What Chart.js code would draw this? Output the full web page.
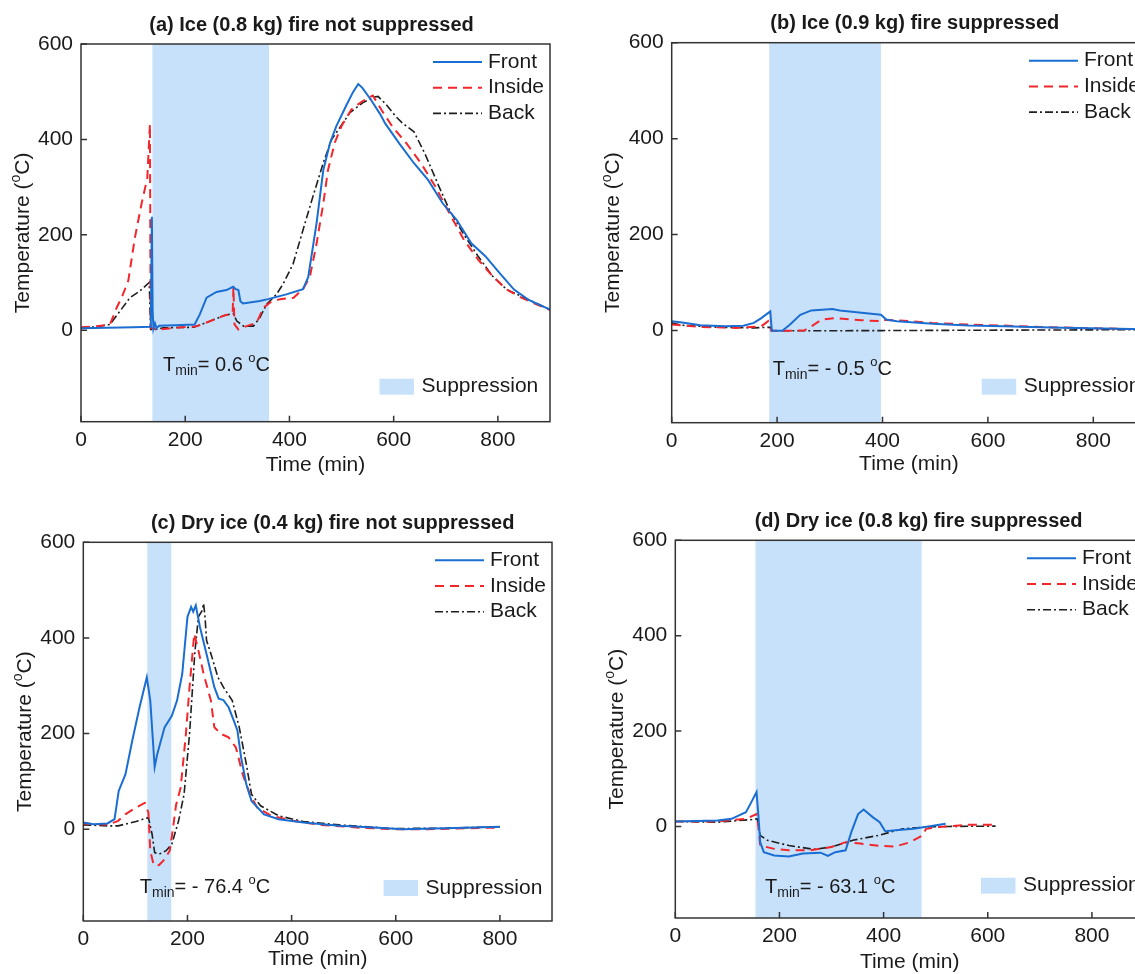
<!DOCTYPE html>
<html><head><meta charset="utf-8">
<script src="https://cdn.jsdelivr.net/npm/chart.js@4.4.1/dist/chart.umd.min.js"></script>
<style>
html,body{margin:0;padding:0;background:#fff;overflow:hidden;width:1135px;height:974px;}
#wrap{position:relative;width:1135px;height:974px;overflow:hidden;background:#fff;}
canvas{position:absolute;}
</style></head><body><div id="wrap">
<canvas id="cA" width="567" height="487" style="left:0px;top:0px"></canvas>
<canvas id="cB" width="600" height="487" style="left:567px;top:0px"></canvas>
<canvas id="cC" width="567" height="487" style="left:0px;top:487px"></canvas>
<canvas id="cD" width="600" height="487" style="left:567px;top:487px"></canvas>
</div>
<script>
// ---------- tick labels / axes ----------
const xTicks = [0, 200, 400, 600, 800];
const yTicks = [0, 200, 400, 600];
const xRange = [0, 900];
const yRange = [-192, 600];
const seriesNames = ['Front', 'Inside', 'Back'];
const titles = [
  '(a) Ice (0.8 kg) fire not suppressed',
  '(b) Ice (0.9 kg) fire suppressed',
  '(c) Dry ice (0.4 kg) fire not suppressed',
  '(d) Dry ice (0.8 kg) fire suppressed'
];
const tminLabels = ['0.6', '- 0.5', '- 76.4', '- 63.1'];

// ---------- suppression intervals (min) ----------
const aBand = [137, 361];
const bBand = [185, 397];
const cBand = [123, 169];
const dBand = [154, 473];

// ---------- (a) Ice 0.8 kg ----------
const aFront = [[0,4],[50,5],[100,6],[134,7],[136,238],[137.5,40],[139,3],[142,14],[145,4],[150,9],[180,10],[218,12],[228,33],[241,68],[260,80],[279,84],[292,91],[297,86],[302,84],[306,60],[311,56],[343,61],[359,65],[394,75],[426,86],[436,111],[452,224],[465,336],[478,393],[490,428],[509,471],[522,499],[532,516],[540,508],[557,482],[574,453],[584,433],[611,391],[639,350],[666,315],[694,266],[721,231],[749,182],[776,155],[803,120],[831,85],[858,64],[900,43]];
const aInside = [[0,6],[30,8],[55.6,12],[68.4,47],[78,68],[90.8,104],[103.6,195],[116.4,266],[127.2,319],[132.3,432],[133.6,5],[145,1],[183.5,5],[222,8],[248,19],[273,30],[291,35],[292.5,90],[294.5,12],[302,1.4],[318,8.5],[337,15.5],[350,47],[363,58],[382,65],[408,68],[426,86],[439,111],[452,181],[465,266],[474,336],[487,393],[500,428],[519,463],[540,480],[560,492],[577,461],[598,426],[625,391],[653,349],[680,301],[707,245],[735,189],[762,148],[790,113],[817,85],[845,68],[900,42]];
const aBack = [[0,5],[30,7],[55.6,12],[74.8,40],[94,68],[113,82],[131,100],[133.6,1.4],[142,1],[158,5],[216,6],[248,19],[273,30],[292,35],[299,19],[312,8.5],[331,8.5],[343,26],[356,54],[375,75],[388,97],[407,139],[426,210],[445,280],[465,351],[481,400],[503,435],[516,456],[541,477],[563,489],[570,490],[584,475],[605,447],[618,433],[639,416],[660,370],[687,301],[707,252],[735,200],[762,155],[790,113],[817,85],[845,71],[900,43]];

// ---------- (b) Ice 0.9 kg ----------
const bFront = [[0,19.5],[20,17],[54,11],[102,9],[136,10],[156,16],[170,26],[187,40],[190,-0.5],[210,-0.5],[224,12],[244,33],[265,42],[305,45],[319,42],[360,37],[397,33],[407,23],[427,19.5],[495,14],[563,10.4],[631,9],[699,7],[767,5.6],[900,3]];
const bInside = [[0,12.5],[54,7.6],[122,5.6],[170,9],[183,19.5],[189,-0.5],[251,0],[265,9],[285,23],[312,26],[360,21.5],[397,19.5],[400,22],[427,21.5],[495,16],[563,12.5],[631,10.4],[699,7.6],[767,5.6],[900,2.5]];
const bBack = [[0,16],[20,11],[88,7],[156,5.6],[187,7],[191,-0.5],[300,-0.3],[400,0],[600,0.8],[800,1.5],[900,2]];

// ---------- (c) Dry ice 0.4 kg ----------
const cFront = [[0,14],[19,10.5],[46.5,12],[60,21],[68,80],[81,115],[94,185],[108,255],[122,318],[128.6,269],[137,130],[142,157],[156,213],[170,237],[180,269],[190,325],[200,444],[207,465],[211,455],[216,468],[224,423],[238,360],[251.6,297],[260,273],[269,270],[279,255],[289,227],[296,206],[303,150],[313,94],[323,59],[347,31],[375,21],[422.6,14],[491,7],[559,3.5],[614,0],[696,2],[800,5]];
const cInside = [[0,12],[46.5,9],[67,17.5],[80.7,31],[101,45],[118,55],[125,35],[128.6,-45],[135,-74],[140,-76.4],[145.6,-75],[156,-63],[166,-45],[172,0],[178,50],[187,87],[197,199],[204,297],[213,409],[221,374],[231,325],[245,269],[251.6,213],[265,199],[279,192],[293,171],[306,115],[320,73],[334,45],[361,28],[402,17.5],[457,9],[525,3.5],[593.5,0],[662,0],[800,3.5]];
const cBack = [[0,9],[46.5,7],[67,7],[101,16],[125,24.5],[132,-10],[137,-49],[146,-52],[159,-45],[170,-31],[183,17.5],[193.5,73],[204,199],[214,367],[221,444],[228,457],[231,472],[234,440],[236.6,395],[245,367],[258.5,318],[269,297],[286,269],[299.5,213],[313,136],[323,73],[340.5,49],[375,28],[422.6,16],[491,9],[593.5,1.4],[696,2],[800,5]];

// ---------- (d) Dry ice 0.8 kg ----------
const dFront = [[0,10.5],[81,12.5],[108,16],[135.6,30],[146,51],[156,72],[159.6,23],[163,-33],[170,-54],[190,-61],[218,-63.1],[245,-57],[279,-55],[293,-62],[307,-54],[327,-50],[338,-12],[351,26],[361.6,35.5],[379,19.5],[392.5,9],[403,-10],[423,-8],[457.5,-5],[492,0.7],[519,5.6]];
const dInside = [[0,10.5],[81,10.5],[135.6,16],[156,26],[159.6,-1.4],[163,-40],[190,-47],[218,-50],[259,-50],[300,-43],[327,-33],[355,-36],[396,-41],[423,-42],[451,-33],[474.6,-19],[481.5,-5],[505,-1.4],[560,3.5],[615,3.5]];
const dBack = [[0,10.5],[81,9],[149,14.6],[157.5,16],[163,-19],[177,-29],[218,-40],[266,-48],[300,-43],[341,-29],[389,-19],[437,-5],[478,-1.4],[526,0],[615,0.7]];

// ---------- styles ----------
const FONT = "'Liberation Sans', Arial, Helvetica, sans-serif";
const TEXT = '#1a1a1a';
const BLUE = '#1a6ed2';
const RED = '#f2262b';
const BLACK = '#1e1e1e';
const BAND = '#c8e1fb';
const styles = [
  {color: BLUE, width: 2, dash: []},
  {color: RED, width: 2, dash: [9, 6]},
  {color: BLACK, width: 1.6, dash: [8, 3, 2, 3]}
];

function rich(ctx, parts, x, y, align) {
  let w = 0;
  parts.forEach(p => { ctx.font = p.s + 'px ' + FONT; p.w = ctx.measureText(p.t).width; w += p.w; });
  let cx = align === 'center' ? x - w / 2 : x;
  ctx.textAlign = 'left'; ctx.textBaseline = 'middle';
  parts.forEach(p => { ctx.font = p.s + 'px ' + FONT; ctx.fillText(p.t, cx, y + (p.dy || 0)); cx += p.w; });
}

const panelPlugin = {
  id: 'panel',
  beforeDatasetsDraw(chart) {
    const o = chart.options.plugins.panel;
    const {ctx, chartArea: ca, scales: {x}} = chart;
    const x0 = x.getPixelForValue(o.band[0]), x1 = x.getPixelForValue(o.band[1]);
    ctx.save();
    ctx.fillStyle = BAND;
    ctx.fillRect(x0, ca.top, x1 - x0, ca.bottom - ca.top);
    ctx.restore();
  },
  afterDraw(chart) {
    const o = chart.options.plugins.panel;
    const {ctx, chartArea: ca, scales: {x, y}} = chart;
    ctx.save();
    // frame
    ctx.strokeStyle = '#333'; ctx.lineWidth = 1.5; ctx.setLineDash([]);
    ctx.strokeRect(ca.left, ca.top, ca.right - ca.left, ca.bottom - ca.top);
    // inward ticks
    ctx.beginPath();
    xTicks.forEach(v => { const p = x.getPixelForValue(v); ctx.moveTo(p, ca.bottom); ctx.lineTo(p, ca.bottom - 6); });
    yTicks.forEach(v => { const p = y.getPixelForValue(v); ctx.moveTo(ca.left, p); ctx.lineTo(ca.left + 6, p); });
    ctx.stroke();
    ctx.fillStyle = TEXT;
    // title
    ctx.font = 'bold 20px ' + FONT; ctx.textAlign = 'center'; ctx.textBaseline = 'middle';
    ctx.fillText(o.title, (ca.left + ca.right) / 2 + o.titleDx, ca.top - 19);
    // x-axis title
    ctx.font = '21px ' + FONT;
    ctx.fillText('Time (min)', (ca.left + ca.right) / 2, ca.bottom + o.xTitleDy);
    // y-axis title
    ctx.save();
    ctx.translate(ca.left - 58, (ca.top + ca.bottom) / 2);
    ctx.rotate(-Math.PI / 2);
    rich(ctx, [{t: 'Temperature (', s: 21}, {t: 'o', s: 14, dy: -7}, {t: 'C)', s: 21}], 0, 0, 'center');
    ctx.restore();
    // legend
    seriesNames.forEach((n, i) => {
      const yy = ca.top + 18 + i * 25.7;
      const st = styles[i];
      ctx.save();
      ctx.strokeStyle = st.color; ctx.lineWidth = st.width; ctx.setLineDash(st.dash);
      ctx.beginPath(); ctx.moveTo(ca.right - 117, yy); ctx.lineTo(ca.right - 68, yy); ctx.stroke();
      ctx.restore();
      ctx.fillStyle = TEXT; ctx.font = '21px ' + FONT; ctx.textAlign = 'left'; ctx.textBaseline = 'middle';
      ctx.fillText(n, ca.right - 62, yy);
    });
    // suppression key
    const sy = ca.bottom + o.suppDy;
    ctx.fillStyle = BAND;
    ctx.fillRect(ca.right + o.suppDx, sy - 8, 34.5, 16);
    ctx.fillStyle = TEXT; ctx.font = '21px ' + FONT; ctx.textAlign = 'left'; ctx.textBaseline = 'middle';
    ctx.fillText('Suppression', ca.right + o.suppDx + 42, sy);
    // Tmin annotation
    rich(ctx, [{t: 'T', s: 20}, {t: 'min', s: 14, dy: 6}, {t: '= ' + o.tmin + ' ', s: 20}, {t: 'o', s: 13, dy: -7}, {t: 'C', s: 20}],
      ca.left + o.tminDx, ca.bottom + o.tminDy, 'left');
    ctx.restore();
  }
};

function makeChart(id, series, p) {
  const datasets = series.map((s, i) => ({
    label: seriesNames[i],
    data: s.map(([t, v]) => ({x: t, y: v})),
    borderColor: styles[i].color,
    borderWidth: styles[i].width,
    borderDash: styles[i].dash,
    pointRadius: 0,
    tension: 0,
    fill: false
  }));
  const tickFont = {family: FONT, size: 21};
  return new Chart(document.getElementById(id), {
    type: 'line',
    data: {datasets},
    options: {
      responsive: false, animation: false, devicePixelRatio: 1,
      layout: {padding: {left: 0, top: p.padTop, right: p.padRight, bottom: 0}},
      plugins: {legend: {display: false}, tooltip: {enabled: false}, title: {display: false}, panel: p},
      scales: {
        x: {
          type: 'linear', min: xRange[0], max: xRange[1],
          afterBuildTicks: s => { s.ticks = xTicks.map(v => ({value: v})); },
          afterFit: s => { s.height = p.xH; },
          grid: {display: false, drawTicks: false}, border: {display: false},
          ticks: {font: tickFont, color: TEXT, padding: 5.7, maxRotation: 0, autoSkip: false}
        },
        y: {
          type: 'linear', min: yRange[0], max: yRange[1],
          afterBuildTicks: s => { s.ticks = yTicks.map(v => ({value: v})); },
          afterFit: s => { s.width = p.yW; },
          grid: {display: false, drawTicks: false}, border: {display: false},
          ticks: {font: tickFont, color: TEXT, padding: 8, autoSkip: false}
        }
      }
    },
    plugins: [panelPlugin]
  });
}

makeChart('cA', [aFront, aInside, aBack], {title: titles[0], band: aBand, tmin: tminLabels[0],
  padTop: 44, padRight: 17, yW: 81, xH: 65.3, titleDx: -4, xTitleDy: 43.4,
  suppDx: -170.5, suppDy: -35, tminDx: 82, tminDy: -56.6});
makeChart('cB', [bFront, bInside, bBack], {title: titles[1], band: bBand, tmin: tminLabels[1],
  padTop: 42.7, padRight: 21, yW: 104.7, xH: 64.3, titleDx: 6, xTitleDy: 42,
  suppDx: -164.3, suppDy: -36, tminDx: 101, tminDy: -53.2});
makeChart('cC', [cFront, cInside, cBack], {title: titles[2], band: cBand, tmin: tminLabels[2],
  padTop: 55.3, padRight: 15, yW: 83.3, xH: 53, titleDx: 15, xTitleDy: 38.6,
  suppDx: -168.4, suppDy: -33, tminDx: 56.5, tminDy: -34});
makeChart('cD', [dFront, dInside, dBack], {title: titles[3], band: dBand, tmin: tminLabels[3],
  padTop: 53.3, padRight: 23, yW: 108.3, xH: 56, titleDx: 9, xTitleDy: 44,
  suppDx: -163, suppDy: -32.3, tminDx: 89.7, tminDy: -30.6});
</script>
</body></html>
